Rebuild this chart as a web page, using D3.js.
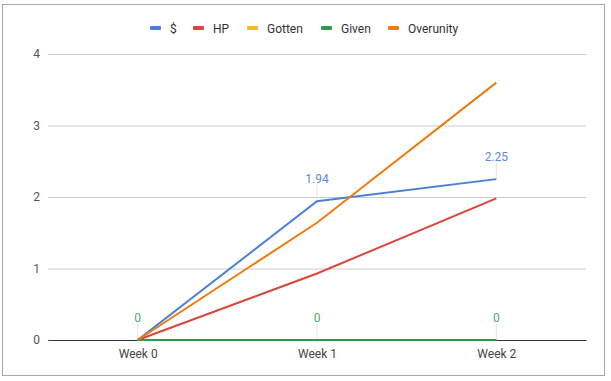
<!DOCTYPE html>
<html>
<head>
<meta charset="utf-8">
<script src="https://cdn.jsdelivr.net/npm/d3@7"></script>
<style>
  body { margin: 0; background: #fff; }
  text { font-family: Roboto, "Noto Sans", Arial, sans-serif; }
</style>
</head>
<body>
<div id="chart"></div>
<script>
const weeks = ["Week 0", "Week 1", "Week 2"];
const seriesNames = ["$", "HP", "Gotten", "Given", "Overunity"];
const dollarVals = [0, 1.94, 2.25];
const hpVals = [0, 0.93, 1.98];
const gottenVals = [0, 0, 0];
const givenVals = [0, 0, 0];
const overunityVals = [0, 1.64, 3.6];
const yTicks = [0, 1, 2, 3, 4];
const colors = ["#4a7fd6", "#d9463b", "#f6bd16", "#2f9a4f", "#f07a0c"];

const W = 611, H = 381;
const margin = { top: 54, right: 25, bottom: 41, left: 48 };
const width = W - margin.left - margin.right,
  height = H - margin.top - margin.bottom;

const root = d3.select("#chart").append("svg")
  .attr("width", W).attr("height", H);

// frame of the screenshot
root.append("rect")
  .attr("x", 2.5).attr("y", 4.5).attr("width", 602).attr("height", 371)
  .attr("fill", "none").attr("stroke", "#a8a8a8");

const svg = root.append("g")
  .attr("transform", `translate(${margin.left}, ${margin.top})`);

const x = d3.scalePoint().domain(weeks).range([0, width]).padding(0.5);
const y = d3.scaleLinear().domain([0, 4]).range([height, 0]);

// gridlines + y labels
svg.append("g")
  .call(d3.axisLeft(y).tickValues(yTicks).tickSize(-width).tickFormat(d3.format("d")))
  .call(g => g.select(".domain").remove())
  .call(g => g.selectAll("line").attr("stroke", "#cccccc"))
  .call(g => g.selectAll("text").attr("x", -8).attr("fill", "#555").attr("font-size", 12));

// x axis
svg.append("g")
  .attr("transform", `translate(0, ${height})`)
  .call(d3.axisBottom(x).tickSize(0).tickPadding(9))
  .call(g => g.select(".domain").attr("stroke", "#333"))
  .call(g => g.selectAll("text").attr("fill", "#444").attr("font-size", 12));

const series = [
  { name: "$", values: dollarVals, labels: true },
  { name: "HP", values: hpVals },
  { name: "Gotten", values: gottenVals },
  { name: "Given", values: givenVals, labels: true },
  { name: "Overunity", values: overunityVals }
];
const color = d3.scaleOrdinal().domain(seriesNames).range(colors);

const line = d3.line()
  .x((d, i) => x(weeks[i]))
  .y(d => y(d));

// leader lines for labels
series.filter(s => s.labels).forEach(s => {
  svg.append("g").selectAll("line")
    .data(s.values.map((v, i) => ({ v, i })).filter(d => s.name !== "$" || d.v > 0))
    .enter().append("line")
    .attr("x1", d => x(weeks[d.i])).attr("x2", d => x(weeks[d.i]))
    .attr("y1", d => y(d.v)).attr("y2", d => y(d.v) - 16)
    .attr("stroke", "#e6e6e6");
});

svg.append("g").selectAll("path")
  .data(series)
  .enter().append("path")
  .attr("d", d => line(d.values))
  .attr("fill", "none")
  .attr("stroke", d => color(d.name))
  .attr("stroke-width", 2);

series.filter(s => s.labels).forEach(s => {
  svg.append("g").selectAll("text")
    .data(s.values.map((v, i) => ({ v, i })).filter(d => s.name !== "$" || d.v > 0))
    .enter().append("text")
    .attr("x", d => x(weeks[d.i]))
    .attr("y", d => y(d.v) - 18)
    .attr("text-anchor", "middle")
    .attr("font-size", 12)
    .attr("fill", s.name === "Given" ? "#4caa6a" : "#5b8bd8")
    .text(d => d.v === 0 ? "0" : d3.format(".2f")(d.v));
});

// legend
const legendX = [150, 193, 247, 321, 388];
const legend = root.append("g").attr("transform", "translate(0, 28)");
const item = legend.selectAll("g").data(seriesNames).enter().append("g")
  .attr("transform", (d, i) => `translate(${legendX[i]}, 0)`);
item.append("rect")
  .attr("x", 0).attr("y", -2).attr("width", 11).attr("height", 4).attr("rx", 1)
  .attr("fill", d => color(d));
item.append("text")
  .attr("x", 20).attr("y", 4.5)
  .attr("font-size", 12).attr("fill", "#333")
  .text(d => d);
</script>
</body>
</html>
